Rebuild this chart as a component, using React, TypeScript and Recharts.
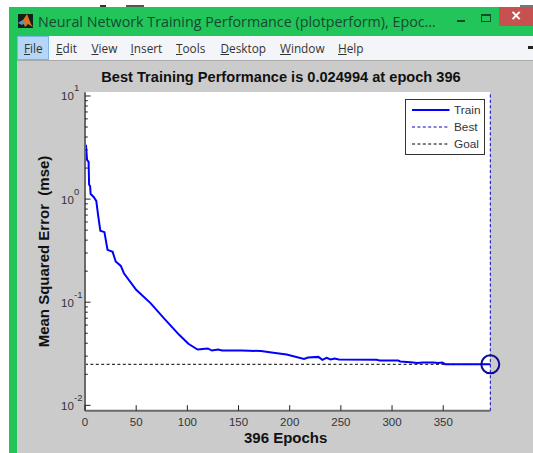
import React from "react";
import { ComposedChart, Line, XAxis, YAxis, ReferenceLine, ReferenceDot, Label } from "recharts";

const epochs = [0, 1, 2, 3.5, 4, 5, 5.5, 8.5, 11, 13, 15, 19, 22, 27, 30, 35, 38, 50, 64, 77, 92, 101, 110, 120, 124, 130, 134, 153, 172, 184, 197, 214, 218, 228, 232, 236, 240, 244, 248, 285, 288, 306, 308, 318, 325, 330, 340, 345, 349, 352, 396];
const trainValues = [3.3, 3.3, 2.4, 2.3, 1.38, 1.34, 1.12, 1.05, 0.96, 0.678, 0.493, 0.478, 0.322, 0.308, 0.248, 0.225, 0.191, 0.132, 0.098, 0.07, 0.0483, 0.0395, 0.0348, 0.0356, 0.034, 0.0347, 0.034, 0.034, 0.0336, 0.0323, 0.0311, 0.0282, 0.0291, 0.0295, 0.0276, 0.0289, 0.0278, 0.0284, 0.0278, 0.0276, 0.0272, 0.0272, 0.0266, 0.0262, 0.0257, 0.026, 0.026, 0.0257, 0.026, 0.02503, 0.024994];
const xTicks = [0, 50, 100, 150, 200, 250, 300, 350];
const majorTicks: Record<number, string> = { 0.01: "-2", 0.1: "-1", 1: "0", 10: "1" };
const yTicks = [0.01, 0.02, 0.03, 0.04, 0.05, 0.06, 0.07, 0.08, 0.09, 0.1, 0.2, 0.3, 0.4, 0.5, 0.6, 0.7, 0.8, 0.9, 1, 2, 3, 4, 5, 6, 7, 8, 9, 10];
const yDomain = [0.00887, 10.86];
const bestEpoch = 396;
const bestValue = 0.024994;
const goalValue = 0.025;
const menuItems = [["F", "ile", 24], ["E", "dit", 56], ["V", "iew", 91.5], ["I", "nsert", 130.5], ["T", "ools", 176], ["D", "esktop", 220.5], ["W", "indow", 280], ["H", "elp", 338]] as const;
const legendItems = [
  { name: "Train", color: "#0000ff", width: 2, dash: undefined },
  { name: "Best", color: "#0000cc", width: 1, dash: "3 2.4" },
  { name: "Goal", color: "#000000", width: 1, dash: "3 2.4" },
];

const data = epochs.map((epoch, i) => ({ epoch, train: trainValues[i] }));
const FONT = "'Liberation Sans', Arial, sans-serif";
const TICK = "#33333b";

function YTick(props: any) {
  const { x, y, payload } = props;
  const sup = majorTicks[payload.value];
  return (
    <g>
      <line x1={x} x2={x + (sup ? 5.5 : 2.8)} y1={y} y2={y} stroke="#222" strokeWidth={1} />
      {sup && (
        <text fontFamily={FONT} fill={TICK}>
          <tspan x={x - 24} y={y + 4.5} fontSize={11.5}>10</tspan>
          <tspan x={x - 11} y={y - 4.5} fontSize={9.5}>{sup}</tspan>
        </text>
      )}
    </g>
  );
}

function XTick(props: any) {
  const { x, y, payload } = props;
  return (
    <g>
      <line x1={x} x2={x} y1={y} y2={y - 5.5} stroke="#222" strokeWidth={1} />
      <text x={x} y={y + 15} textAnchor="middle" fontFamily={FONT} fontSize={11.5} fill={TICK}>{payload.value}</text>
    </g>
  );
}

const abs = (left: number, top: number, width: number, height: number, background: string, extra: React.CSSProperties = {}): React.CSSProperties => ({
  position: "absolute", left, top, width, height, background, boxSizing: "border-box", ...extra,
});

export default function App() {
  return (
    <div style={{ position: "absolute", left: 0, top: 0, width: 533, height: 453, background: "#fff", overflow: "hidden" }}>
      <div style={abs(100, 5, 6, 2, "#333")} />
      <div style={abs(126, 5, 18, 2, "#555")} />
      <div style={abs(520, 5, 13, 2, "#777")} />
      <div style={abs(9, 7, 524, 446, "#22c55a")} />
      <div style={abs(16.5, 36, 517, 24.5, "#f4f5f8")} />
      <div style={abs(16.5, 60, 517, 1.5, "#a9a9a9")} />
      <div style={abs(16.5, 61, 517, 392, "#cbcbcb")} />
      <div style={abs(16.5, 36, 32.5, 24, "#b5d6f6", { border: "1px solid #7db4e6" })} />
      <div style={abs(498.5, 7, 35, 19, "#c75050")} />
      <div style={{ ...abs(498.5, 5, 35, 19, "transparent"), color: "#fff", fontFamily: "'DejaVu Sans'", fontSize: 14, fontWeight: 700, textAlign: "center", lineHeight: "21px" }}>×</div>
      <div style={abs(457, 19.5, 8, 2, "#17492f")} />
      <div style={abs(481, 13.5, 10, 8, "transparent", { border: "1.5px solid #17492f", borderTopWidth: 2.5 })} />
      <div style={abs(528, 45.5, 5, 3, "#222")} />
      <svg style={{ position: "absolute", left: 18, top: 14 }} width={15} height={14}>
        <rect width={15} height={14} fill="#12201c" />
        <path d="M0 9 L5 6 L9 0 L13 10 L15 13 L10 10 L7 13 L5 8 Z" fill="#e0701c" />
        <path d="M0 9 L5 6 L7 9 L4 11 Z" fill="#4a9ac8" />
      </svg>
      <div style={{ position: "absolute", left: 38, top: 13, whiteSpace: "nowrap", fontFamily: "'Open Sans'", fontSize: 14.3, color: "#154a32", lineHeight: "18px" }}>
        Neural Network Training Performance (plotperform), Epoc...
      </div>
      {menuItems.map(([first, rest, left]) => (
        <div key={first} style={{ position: "absolute", left, top: 40, whiteSpace: "nowrap", fontFamily: "'Open Sans'", fontSize: 11.8, color: "#333", lineHeight: "16px" }}>
          <span style={{ textDecoration: "underline" }}>{first}</span>{rest}
        </div>
      ))}
      <div style={{ position: "absolute", left: 81, width: 400, top: 69, textAlign: "center", whiteSpace: "nowrap", fontFamily: FONT, fontWeight: 700, fontSize: 14.6, color: "#111", lineHeight: "16px" }}>
        Best Training Performance is 0.024994 at epoch 396
      </div>
      <div style={abs(85, 92.3, 405.3, 318.4, "#fff")} />
      <div style={{ position: "absolute", left: 0, top: 0 }}>
        <ComposedChart width={533} height={453} data={data} margin={{ top: 92.3, right: 42.7, left: 0, bottom: 0 }}>
          <XAxis
            dataKey="epoch"
            type="number"
            domain={[0, bestEpoch]}
            ticks={xTicks}
            interval={0}
            height={42.3}
            tickSize={0}
            tickMargin={0}
            tick={<XTick />}
            tickLine={false}
            axisLine={{ stroke: "#6a6a6a", strokeWidth: 2 }}
          >
            <Label value="396 Epochs" position="insideBottom" offset={10} dx={-2} fontFamily={FONT} fontWeight={700} fontSize={15} fill="#111" />
          </XAxis>
          <YAxis
            type="number"
            scale="log"
            domain={yDomain}
            allowDataOverflow
            ticks={yTicks}
            interval={0}
            width={85}
            tickSize={0}
            tickMargin={0}
            tick={<YTick />}
            tickLine={false}
            axisLine={{ stroke: "#6a6a6a", strokeWidth: 2 }}
          >
            <Label value={"Mean Squared Error\u00a0\u00a0(mse)"} angle={-90} position="insideLeft" offset={44} dy={0} style={{ textAnchor: "middle" }} fontFamily={FONT} fontWeight={700} fontSize={15} fill="#111" />
          </YAxis>
          <ReferenceLine y={goalValue} stroke="#000" strokeWidth={1} strokeDasharray="3 2.4" />
          <ReferenceLine x={bestEpoch} stroke="#0000cc" strokeWidth={1} strokeDasharray="3 2.4" />
          <Line dataKey="train" type="linear" stroke="#0000ff" strokeWidth={2} dot={false} isAnimationActive={false} />
          <ReferenceDot x={bestEpoch} y={bestValue} r={9} fill="none" stroke="#0a0a96" strokeWidth={2} ifOverflow="visible" />
        </ComposedChart>
      </div>
      <div style={abs(404.5, 98.5, 80.5, 56, "#fff", { border: "1px solid #333" })}>
        {legendItems.map((item, i) => (
          <div key={item.name} style={{ position: "absolute", left: 0, top: 2.5 + i * 17.2, height: 16, width: 78 }}>
            <svg width={44} height={16} style={{ position: "absolute", left: 6, top: 0 }}>
              <line x1={0} x2={37.5} y1={8} y2={8} stroke={item.color} strokeWidth={item.width} strokeDasharray={item.dash} />
            </svg>
            <span style={{ position: "absolute", left: 48.5, top: 0, fontFamily: FONT, fontSize: 11.8, lineHeight: "16px", color: TICK }}>{item.name}</span>
          </div>
        ))}
      </div>
    </div>
  );
}
